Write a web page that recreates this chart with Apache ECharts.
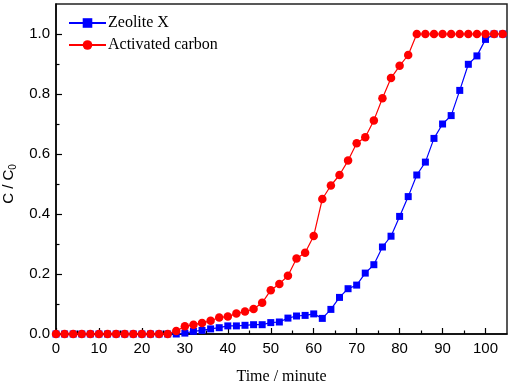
<!DOCTYPE html>
<html>
<head>
<meta charset="utf-8">
<script src="https://cdn.jsdelivr.net/npm/echarts@6/dist/echarts.min.js"></script>
<style>html,body{margin:0;padding:0;background:#fff;}#c{width:510px;height:383px;}</style>
</head>
<body>
<div id="c"></div>
<script>
var times = [0,2,4,6,8,10,12,14,16,18,20,22,24,26,28,30,32,34,36,38,40,42,44,46,48,50,52,54,56,58,60,62,64,66,68,70,72,74,76,78,80,82,84,86,88,90,92,94,96,98,100,102,104];
var zeoliteX = [0,0,0,0,0,0,0,0,0,0,0,0,0,0,0,0.003,0.009,0.012,0.017,0.021,0.027,0.027,0.029,0.031,0.031,0.038,0.040,0.053,0.060,0.062,0.067,0.052,0.082,0.122,0.151,0.163,0.203,0.231,0.290,0.326,0.392,0.458,0.530,0.573,0.652,0.700,0.728,0.812,0.899,0.927,0.982,1.0,1.0];
var activatedCarbon = [0,0,0,0,0,0,0,0,0,0,0,0,0,0,0.010,0.026,0.031,0.037,0.044,0.055,0.058,0.068,0.075,0.083,0.104,0.146,0.167,0.194,0.252,0.271,0.327,0.450,0.495,0.530,0.578,0.636,0.656,0.712,0.786,0.853,0.894,0.930,1.0,1.0,1.0,1.0,1.0,1.0,1.0,1.0,1.0,1.0,1.0];
var seriesNames = ['Zeolite X', 'Activated carbon'];
var xMajor = [0,10,20,30,40,50,60,70,80,90,100];
var xMinor = [5,15,25,35,45,55,65,75,85,95];
var yMajor = [0,0.2,0.4,0.6,0.8,1.0];
var yMinor = [0.1,0.3,0.5,0.7,0.9];

function pairs(vals){ return times.map(function(t,i){ return [t, vals[i]]; }); }

var chart = echarts.init(document.getElementById('c'), null, {renderer:'canvas'});
var axisCol = '#000';
var sans = 'Liberation Sans, Arial, sans-serif';
var serif = 'Liberation Serif, Times New Roman, serif';
chart.setOption({
  animation:false,
  backgroundColor:'#fff',
  grid:{left:56, right:3, top:4, bottom:49, containLabel:false, outerBoundsMode:'none',
    show:true, borderColor:'#222', borderWidth:1.5, backgroundColor:'transparent'},
  legend:{
    left:63, top:10, orient:'vertical', itemWidth:37, itemHeight:12, itemGap:6,
    textStyle:{fontFamily:serif, fontSize:16, color:'#000', padding:[0,0,0,-3]},
    data: seriesNames
  },
  xAxis:[{
    type:'value', min:0, max:105,
    axisLine:{show:true, lineStyle:{color:axisCol, width:1.5}},
    axisTick:{show:true, inside:true, length:6, customValues:xMajor, lineStyle:{color:axisCol, width:1.2}},
    axisLabel:{customValues:xMajor, margin:7, fontFamily:sans, fontSize:15, color:'#000'},
    splitLine:{show:false},
    name:'Time / minute', nameLocation:'middle', nameGap:35,
    nameTextStyle:{fontFamily:serif, fontSize:16, color:'#000'}
  },{
    type:'value', min:0, max:105, position:'bottom',
    axisLine:{show:false},
    axisTick:{show:true, inside:true, length:3.5, customValues:xMinor, lineStyle:{color:axisCol, width:1.2}},
    axisLabel:{show:false}, splitLine:{show:false}
  }],
  yAxis:[{
    type:'value', min:0, max:1.1,
    axisLine:{show:true, lineStyle:{color:axisCol, width:1.5}},
    axisTick:{show:true, inside:true, length:6, customValues:yMajor, lineStyle:{color:axisCol, width:1.2}},
    axisLabel:{customValues:yMajor, margin:6, fontFamily:sans, fontSize:15, color:'#000',
      formatter:function(v){ return v.toFixed(1); }},
    splitLine:{show:false},
    name:'{a|C / C}{s|0}', nameLocation:'middle', nameGap:35,
    nameTextStyle:{padding:[0,30,0,0], rich:{
      a:{fontFamily:sans, fontSize:15, color:'#000', lineHeight:18},
      s:{fontFamily:sans, fontSize:10, color:'#000', lineHeight:18, verticalAlign:'bottom', padding:[6,0,0,0]}
    }}
  },{
    type:'value', min:0, max:1.1, position:'left',
    axisLine:{show:false},
    axisTick:{show:true, inside:true, length:3.5, customValues:yMinor, lineStyle:{color:axisCol, width:1.2}},
    axisLabel:{show:false}, splitLine:{show:false}
  }],
  series:[{
    name:seriesNames[0], type:'line', data:pairs(zeoliteX),
    symbol:'rect', symbolSize:7, showAllSymbol:true,
    itemStyle:{color:'#0000ff'}, lineStyle:{color:'#0000ff', width:1.2}
  },{
    name:seriesNames[1], type:'line', data:pairs(activatedCarbon),
    symbol:'circle', symbolSize:8.5, showAllSymbol:true,
    itemStyle:{color:'#ff0000'}, lineStyle:{color:'#ff0000', width:1.2}
  }]
});
</script>
</body>
</html>
